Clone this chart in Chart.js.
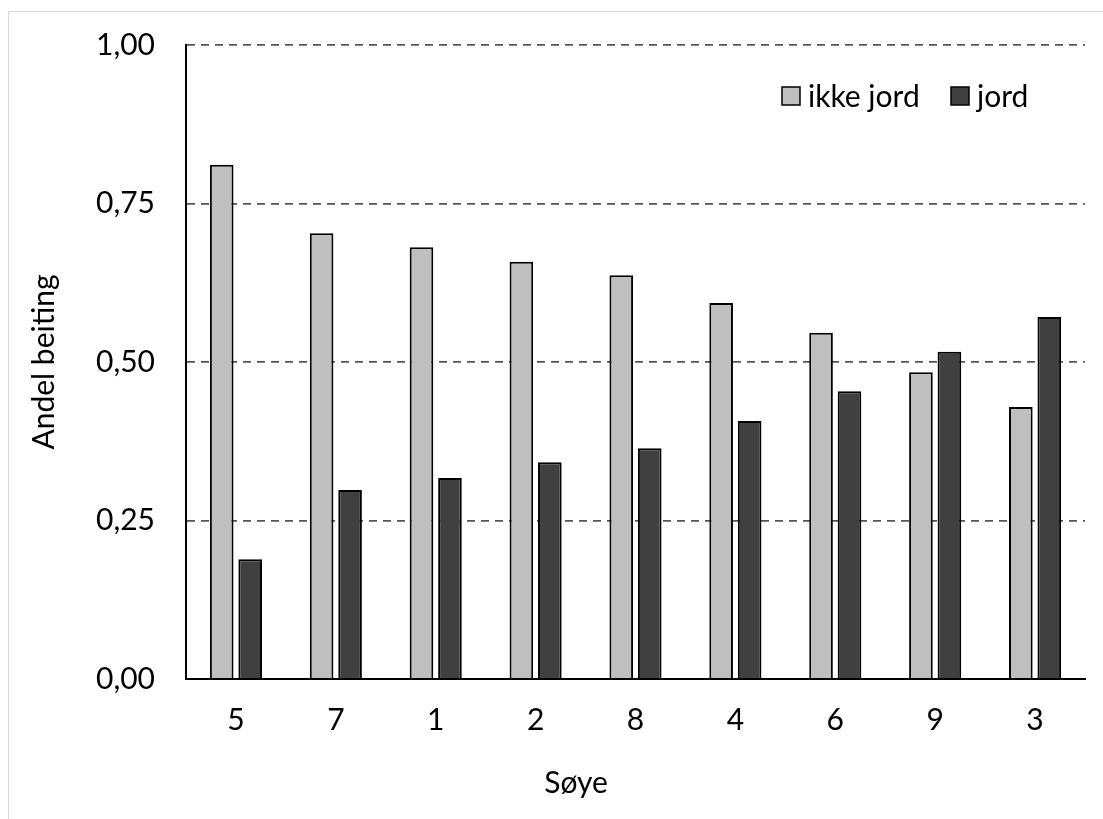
<!DOCTYPE html>
<html>
<head>
<meta charset="utf-8">
<script src="https://cdn.jsdelivr.net/npm/chart.js@4/dist/chart.umd.min.js"></script>
<style>
  html, body { margin: 0; padding: 0; background: #fff; overflow: hidden; }
  #frame { position: absolute; left: 8px; top: 11px; width: 1200px; height: 900px; border: 1px solid #d9d9d9; }
  #wrap { position: absolute; left: 0; top: 0; width: 1103px; height: 819px; }
</style>
</head>
<body>
<div id="frame"></div>
<div id="wrap"><canvas id="chart"></canvas></div>
<script>
// ---- data ----
const sheep = ['5', '7', '1', '2', '8', '4', '6', '9', '3']
const ikkeJord = [0.811, 0.703, 0.681, 0.658, 0.637, 0.593, 0.546, 0.484, 0.429]
const jord = [0.189, 0.298, 0.317, 0.342, 0.364, 0.407, 0.454, 0.516, 0.571]
const yTicks = [0, 0.25, 0.5, 0.75, 1]

const FONT = 'Lato'
const SIZE = 30

// legend + x title drawn by hand so they sit where Excel put them
const extras = {
  id: 'extras',
  afterDraw(chart) {
    const ctx = chart.ctx
    ctx.save()
    ctx.font = SIZE + 'px ' + FONT
    ctx.textBaseline = 'middle'
    ctx.textAlign = 'left'
    const items = [
      { ds: chart.data.datasets[0], box: 782, text: 808 },
      { ds: chart.data.datasets[1], box: 951, text: 977 },
    ]
    items.forEach((it) => {
      ctx.fillStyle = it.ds.backgroundColor
      ctx.fillRect(it.box, 87, 18, 18)
      ctx.lineWidth = 1.5
      ctx.strokeStyle = '#000'
      ctx.strokeRect(it.box, 87, 18, 18)
      ctx.fillStyle = '#000'
      ctx.fillText(it.ds.label, it.text, 97)
    })
    ctx.textAlign = 'center'
    ctx.fillText('Søye', 576, 783)
    ctx.restore()
  },
}

const myChart = new Chart(document.getElementById('chart'), {
  type: 'bar',
  data: {
    labels: sheep,
    datasets: [
      {
        label: 'ikke jord',
        data: ikkeJord,
        backgroundColor: '#bfbfbf',
        borderColor: '#000',
        borderWidth: 2,
      },
      {
        label: 'jord',
        data: jord,
        backgroundColor: '#404040',
        borderColor: '#000',
        borderWidth: 2,
      },
    ],
  },
  options: {
    responsive: true,
    maintainAspectRatio: false,
    animation: false,
    categoryPercentage: 0.57,
    barPercentage: 0.83,
    layout: { padding: { left: 0, top: 45, right: 18, bottom: 0 } },
    scales: {
      x: {
        grid: { display: false },
        border: { display: true, color: '#000', width: 2 },
        ticks: { color: '#000', padding: 15, font: { family: FONT, size: SIZE } },
        afterFit: (scale) => {
          scale.height = 140
        },
      },
      y: {
        min: 0,
        max: 1,
        afterBuildTicks: (scale) => {
          scale.ticks = yTicks.map((v) => ({ value: v }))
        },
        ticks: {
          color: '#000',
          padding: 31,
          font: { family: FONT, size: SIZE },
          callback: (v) => v.toFixed(2).replace('.', ','),
        },
        grid: {
          drawTicks: false,
          lineWidth: 1.8,
          color: (c) => (c.tick && c.tick.value === 0 ? 'rgba(0,0,0,0)' : '#555555'),
        },
        border: { display: true, color: '#000', width: 2, dash: [8, 6] },
        title: {
          display: true,
          text: 'Andel beiting',
          color: '#000',
          font: { family: FONT, size: SIZE },
          padding: { top: 26, bottom: 0 },
        },
        afterFit: (scale) => {
          scale.width = 186
          // tick padding would otherwise push the plot top down
          scale.paddingTop = 0
          scale.paddingBottom = 0
        },
      },
    },
    plugins: {
      legend: { display: false },
      tooltip: { enabled: false },
    },
  },
  plugins: [extras],
})
</script>
</body>
</html>
